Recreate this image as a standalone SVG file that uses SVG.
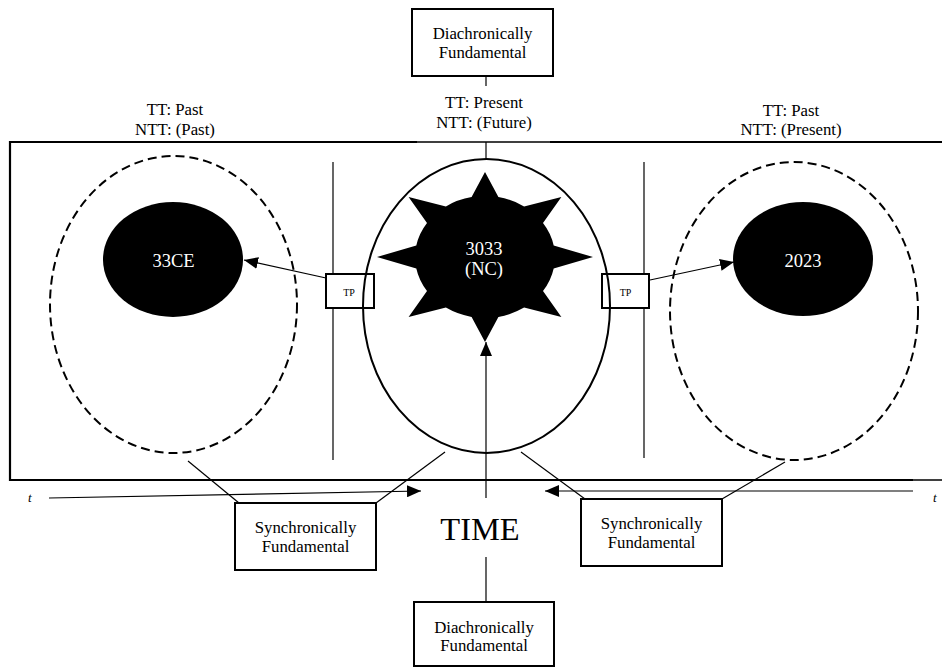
<svg xmlns="http://www.w3.org/2000/svg" width="942" height="668" viewBox="0 0 942 668" font-family="'Liberation Serif', 'Times New Roman', serif">
<style>
text{font-family:"Liberation Serif","Times New Roman",serif;fill:#000}
.lbl{font-family:"Liberation Serif","Times New Roman",serif;font-size:16.8px;text-anchor:middle}
.wt{font-family:"Liberation Serif","Times New Roman",serif;font-size:18.5px;fill:#fff;text-anchor:middle}
.box{fill:#fff;stroke:#000;stroke-width:2}
.thin{stroke:#000;stroke-width:1.2;fill:none}
.dash{fill:none;stroke:#000;stroke-width:2;stroke-dasharray:9 5}
.solid{fill:none;stroke:#000;stroke-width:2}
</style>
<defs>
<marker id="ah" markerUnits="userSpaceOnUse" markerWidth="14" markerHeight="12" refX="14" refY="6" orient="auto">
<path d="M0,0 L14,6 L0,12 z" fill="#000"/>
</marker>
</defs>
<rect width="942" height="668" fill="#fff"/>

<g id="frame">
<path d="M942 142 H550 M417 142 H10 V480 H913" fill="none" stroke="#000" stroke-width="2.2"/>
<path d="M550 142 H417 M913 480 H942" fill="none" stroke="#000" stroke-width="1.4"/>
<line x1="333" y1="162" x2="333" y2="460" class="thin"/>
<line x1="644" y1="162" x2="644" y2="458" class="thin"/>
</g>

<g id="labels-top">
<text class="lbl" x="175" y="115">TT: Past</text>
<text class="lbl" x="175" y="135">NTT: (Past)</text>
<text class="lbl" x="484" y="108">TT: Present</text>
<text class="lbl" x="484" y="128">NTT: (Future)</text>
<text class="lbl" x="791" y="116">TT: Past</text>
<text class="lbl" x="791" y="135">NTT: (Present)</text>
</g>

<g id="past-region">
<ellipse cx="173.5" cy="304.5" rx="123.5" ry="148.5" class="dash"/>
</g>
<g id="present-region">
<ellipse cx="794" cy="311" rx="124" ry="149" class="dash"/>
</g>

<g id="node-33ce">
<ellipse cx="173" cy="259.5" rx="70" ry="57.5" fill="#000"/>
<text class="wt" x="173.5" y="267">33CE</text>
</g>
<g id="node-2023">
<ellipse cx="803" cy="259" rx="70" ry="57" fill="#000"/>
<text class="wt" x="803" y="267">2023</text>
</g>

<g id="tp-left">
<rect x="326" y="274" width="48" height="34" class="box" stroke-width="1.8"/>
<text x="349" y="296" font-size="10" text-anchor="middle">TP</text>
</g>
<g id="tp-right">
<rect x="602" y="274" width="47" height="34" class="box" stroke-width="1.8"/>
<text x="625.5" y="296" font-size="10" text-anchor="middle">TP</text>
</g>

<g id="future-region">
<ellipse cx="486.5" cy="306" rx="123.5" ry="147" class="solid"/>
</g>

<g id="node-3033">
<path fill="#000" d="M553.7 268.6 L593 257 L553.7 245.4 A70 61 0 0 0 543 222.9 L561.4 196.9 L524.1 206.4 A70 61 0 0 0 498.4 197.1 L485 172 L471.6 197.1 A70 61 0 0 0 445.9 206.4 L408.6 196.9 L427 222.9 A70 61 0 0 0 416.3 245.4 L377 257 L416.3 268.6 A70 61 0 0 0 427 291.1 L408.6 317.1 L445.9 307.6 A70 61 0 0 0 471.6 316.9 L485 342 L498.4 316.9 A70 61 0 0 0 524.1 307.6 L561.4 317.1 L543 291.1 A70 61 0 0 0 553.7 268.6 Z"/>
<text class="wt" x="484" y="255">3033</text>
<text class="wt" x="484" y="275">(NC)</text>
</g>

<g id="diachronic-top">
<rect x="412" y="9" width="141" height="67" class="box"/>
<text class="lbl" x="482.5" y="38.5">Diachronically</text>
<text class="lbl" x="482.5" y="58">Fundamental</text>
</g>

<g id="sync-left">
<rect x="235" y="503" width="141" height="67" class="box"/>
<text class="lbl" x="305.5" y="533">Synchronically</text>
<text class="lbl" x="305.5" y="552">Fundamental</text>
</g>
<g id="sync-right">
<rect x="581" y="499" width="141" height="67" class="box"/>
<text class="lbl" x="651.5" y="529">Synchronically</text>
<text class="lbl" x="651.5" y="548">Fundamental</text>
</g>

<g id="time">
<text x="480" y="540" font-size="32.5" text-anchor="middle">TIME</text>
<text x="28" y="502" font-size="13" font-style="italic">t</text>
<text x="933" y="502" font-size="13" font-style="italic">t</text>
</g>

<g id="diachronic-bottom">
<rect x="414" y="602" width="140" height="64" class="box"/>
<text class="lbl" x="484" y="633">Diachronically</text>
<text class="lbl" x="484" y="651">Fundamental</text>
</g>

<g id="connectors" class="thin">
<line x1="486" y1="76" x2="486" y2="86"/>
<line x1="486" y1="142" x2="486" y2="160"/>
<line x1="326" y1="278" x2="244" y2="260" marker-end="url(#ah)"/>
<line x1="650" y1="280" x2="734" y2="262" marker-end="url(#ah)"/>
<line x1="486" y1="498" x2="486" y2="342" marker-end="url(#ah)"/>
<line x1="49" y1="498" x2="421" y2="491" marker-end="url(#ah)"/>
<line x1="913" y1="491" x2="545" y2="491" marker-end="url(#ah)"/>
<line x1="188" y1="461" x2="239" y2="503"/>
<line x1="445" y1="452" x2="376" y2="503"/>
<line x1="521" y1="452" x2="585" y2="499"/>
<line x1="785" y1="462" x2="722" y2="499"/>
<line x1="486" y1="557" x2="486" y2="602"/>
</g>
</svg>
